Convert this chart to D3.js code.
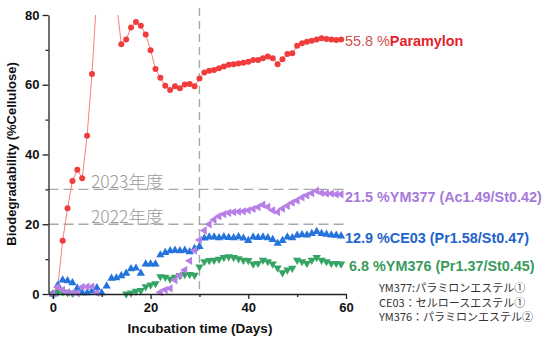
<!DOCTYPE html>
<html>
<head>
<meta charset="utf-8">
<script src="https://d3js.org/d3.v7.min.js"></script>
<style>
  body { margin: 0; background: #fff; }
  text { font-family: "Liberation Sans", Arial, sans-serif; }
</style>
</head>
<body>
<div id="chart"></div>
<script>
// incubation day of each measurement
var days = d3.range(0, 60);

// biodegradability (% cellulose); null = point not visible
var paramylon = [0, 2, 15.3, 24.6, 32.4, 35.6, 33.2, 45.4, 63.1, 86, 95, 97, 92, 84,
  71.6, 73.0, 76.4, 78.0, 76.9, 74.4, 69.9, 64.5, 62.0, 59.7, 58.5, 59.6, 59.0, 60.1, 60.2, 59.6,
  61.8, 63.5, 64.0, 64.2, 64.7, 65.2, 65.7, 65.9, 66.1, 66.3, 66.6, 67.1, 67.1, 67.6, 68.1,
  67.6, 65.9, 67.3, 68.8, 69.0, 71.2, 71.9, 72.3, 72.6, 73.0, 73.3, 73.1, 73.0, 72.8, 73.0];

var ym377 = [0, 2.0, 1.2, 0.5, 0.3, 0.2, 2.0, 2.1, 2.1, 0.3, null, null, null, null, null,
  null, null, null, null, null, null, null, 0.5, 1.2, 1.6, 4.0, 5.4, 6.9, 9.5, 12.5,
  15.5, 18.2, 20.0, 21.3, 22.3, 22.9, 23.3, 23.5, 23.6, 23.7, 24.0, 24.4, 24.9, 25.6, 25.0,
  24.0, 23.5, 24.5, 25.3, 26.2, 26.8, 27.7, 28.3, 28.9, 29.6, 29.0, 28.8, 28.8, 28.6, 28.6];

var ce03 = [0, 2.5, 4.0, 3.8, 3.2, 1.6, 0.3, 0.3, 0.8, 1.8, 0.3, 2.3, 4.5, 4.6, 5.2,
  5.9, 7.2, 7.4, 5.9, 8.6, 8.6, 8.6, 11.2, 11.9, 12.4, 12.5, 12.4, 12.5, 12.1, 13.0,
  13.6, 16.0, 16.3, 16.3, 16.1, 16.4, 16.2, 16.1, 16.4, 16.0, 15.3, 16.3, 16.2, 16.3, 16.1,
  15.6, 14.5, 15.3, 16.3, 16.1, 16.8, 17.0, 16.9, 17.3, 17.9, 17.3, 17.1, 16.9, 16.8, 16.6];

var ym376 = [0, 0.5, 0.6, 0.4, 0.2, null, null, null, null, null, null, null, null, null, null,
  0, 0.3, 0.8, 1.0, 2.1, 2.6, 3.0, 5.0, 4.8, 4.3, 4.8, 5.3, 5.6, 5.6, 5.4,
  7.8, 9.3, 9.6, 9.7, 10.0, 10.5, 10.7, 10.5, 10.1, 9.7, 9.6, 8.6, 8.8, 9.7, 9.3,
  8.6, 7.5, 6.1, 6.9, 7.4, 9.7, 9.3, 8.8, 9.7, 10.5, 9.7, 9.3, 8.8, 8.8, 8.6];

var xTicks = [0, 20, 40, 60];
var yTicks = [0, 20, 40, 60, 80];
var refLines = [30, 20];
var refLabels = ["2023年度", "2022年度"];
var endLabels = [
  {pct: "55.8 %", name: "Paramylon"},
  {pct: "21.5 %", name: "YM377 (Ac1.49/St0.42)"},
  {pct: "12.9 %", name: "CE03 (Pr1.58/St0.47)"},
  {pct: " 6.8 %", name: "YM376 (Pr1.37/St0.45)"}
];
var notes = ["YM377:パラミロンエステル①", "CE03：セルロースエステル①", "YM376：パラミロンエステル②"];

var W = 549, H = 340;
var x = d3.scaleLinear().domain([-0.9, 60]).range([48.5, 346]);
var y = d3.scaleLinear().domain([0, 80]).range([294, 15]);

var svg = d3.select("#chart").append("svg")
  .attr("width", W).attr("height", H);

svg.append("defs").append("clipPath").attr("id", "plot")
  .append("rect").attr("x", 40).attr("y", 15).attr("width", 320).attr("height", 284);

// reference lines
svg.selectAll(".href").data(refLines).enter().append("line")
  .attr("x1", x(-0.9)).attr("x2", x(60))
  .attr("y1", function (d) { return y(d); }).attr("y2", function (d) { return y(d); })
  .attr("stroke", "#a8a8a8").attr("stroke-width", 1.4).attr("stroke-dasharray", "10,5");

svg.append("line")
  .attr("x1", x(30)).attr("x2", x(30)).attr("y1", 8).attr("y2", y(0))
  .attr("stroke", "#a8a8a8").attr("stroke-width", 1.4).attr("stroke-dasharray", "8,5");

svg.selectAll(".reflabel").data(refLines).enter().append("text")
  .attr("x", 91).attr("y", function (d) { return y(d) - 1; })
  .style("font-family", "'Noto Sans CJK JP', sans-serif")
  .style("font-weight", 300)
  .style("font-size", "17.5px").attr("fill", "#9a9a9a")
  .text(function (d, i) { return refLabels[i]; });

var g = svg.append("g").attr("clip-path", "url(#plot)");

function pts(vals) {
  return days.map(function (d, i) { return {day: d, v: vals[i]}; })
    .filter(function (p) { return p.v !== null; });
}

// paramylon: thin line + dots
g.append("path")
  .datum(pts(paramylon))
  .attr("fill", "none").attr("stroke", "#f28080").attr("stroke-width", 1)
  .attr("d", d3.line().x(function (p) { return x(p.day); }).y(function (p) { return y(p.v); }));

g.selectAll(".dot").data(pts(paramylon)).enter().append("circle")
  .attr("cx", function (p) { return x(p.day); })
  .attr("cy", function (p) { return y(p.v); })
  .attr("r", 3).attr("fill", "#f03c3c");

var tri = d3.symbol().type(d3.symbolTriangle).size(30);

function drawTri(vals, color, rot) {
  g.selectAll(null).data(pts(vals)).enter().append("path")
    .attr("d", tri)
    .attr("transform", function (p) {
      return "translate(" + x(p.day) + "," + y(p.v) + ") rotate(" + rot + ")";
    })
    .attr("fill", color);
}
drawTri(ym376, "#35a464", 180);
drawTri(ce03, "#2474dc", 0);
drawTri(ym377, "#b780e6", -90);

// axes
svg.append("g").attr("transform", "translate(0," + y(0) + ")")
  .call(d3.axisBottom(x).tickValues(xTicks).tickSize(5).tickSizeOuter(0).tickPadding(4));
svg.append("g").attr("transform", "translate(0," + y(0) + ")")
  .call(d3.axisBottom(x).tickValues([10, 30, 50]).tickSize(3).tickFormat(""))
  .call(function (a) { a.select(".domain").remove(); });

svg.append("g").attr("transform", "translate(" + x(-0.9) + ",0)")
  .call(d3.axisLeft(y).tickValues(yTicks).tickSize(6).tickSizeOuter(0).tickPadding(3));
svg.append("g").attr("transform", "translate(" + x(-0.9) + ",0)")
  .call(d3.axisLeft(y).tickValues([10, 30, 50, 70]).tickSize(3).tickFormat(""))
  .call(function (a) { a.select(".domain").remove(); });

svg.selectAll(".tick text")
  .style("font-family", "'Liberation Sans', Arial, sans-serif")
  .style("font-size", "13px").style("font-weight", "bold").attr("fill", "#111");
svg.selectAll(".domain, .tick line").attr("stroke", "#222").attr("stroke-width", 1.3);

svg.append("text")
  .attr("transform", "translate(16," + 154 + ") rotate(-90)")
  .attr("text-anchor", "middle")
  .style("font-size", "13px").style("font-weight", "bold").attr("fill", "#111")
  .text("Biodegradability (%Cellulose)");

svg.append("text")
  .attr("x", 200).attr("y", 333).attr("text-anchor", "middle")
  .style("font-size", "13.5px").style("font-weight", "bold").attr("fill", "#111")
  .text("Incubation time (Days)");

// end-of-series labels
var labelY = [46, 202, 243, 271];
var labelCol = [["#d04f4f", "#e4222a"], ["#a77ad9", "#a77ad9"], ["#1f63cc", "#1f63cc"], ["#3a9b5c", "#3a9b5c"]];
endLabels.forEach(function (l, i) {
  var t = svg.append("text").attr("x", 345).attr("y", labelY[i])
    .style("font-size", "14.4px").attr("xml:space", "preserve");
  t.append("tspan").attr("fill", labelCol[i][0])
    .style("font-weight", i === 0 ? "normal" : "bold").text(l.pct);
  t.append("tspan").attr("fill", labelCol[i][1]).style("font-weight", "bold").text(l.name);
});

svg.selectAll(".note").data(notes).enter().append("text")
  .attr("x", 379).attr("y", function (d, i) { return 292 + i * 14.5; })
  .style("font-family", "'Noto Sans CJK JP', sans-serif")
  .style("font-size", "11px").attr("fill", "#333")
  .text(function (d) { return d; });
</script>
</body>
</html>
